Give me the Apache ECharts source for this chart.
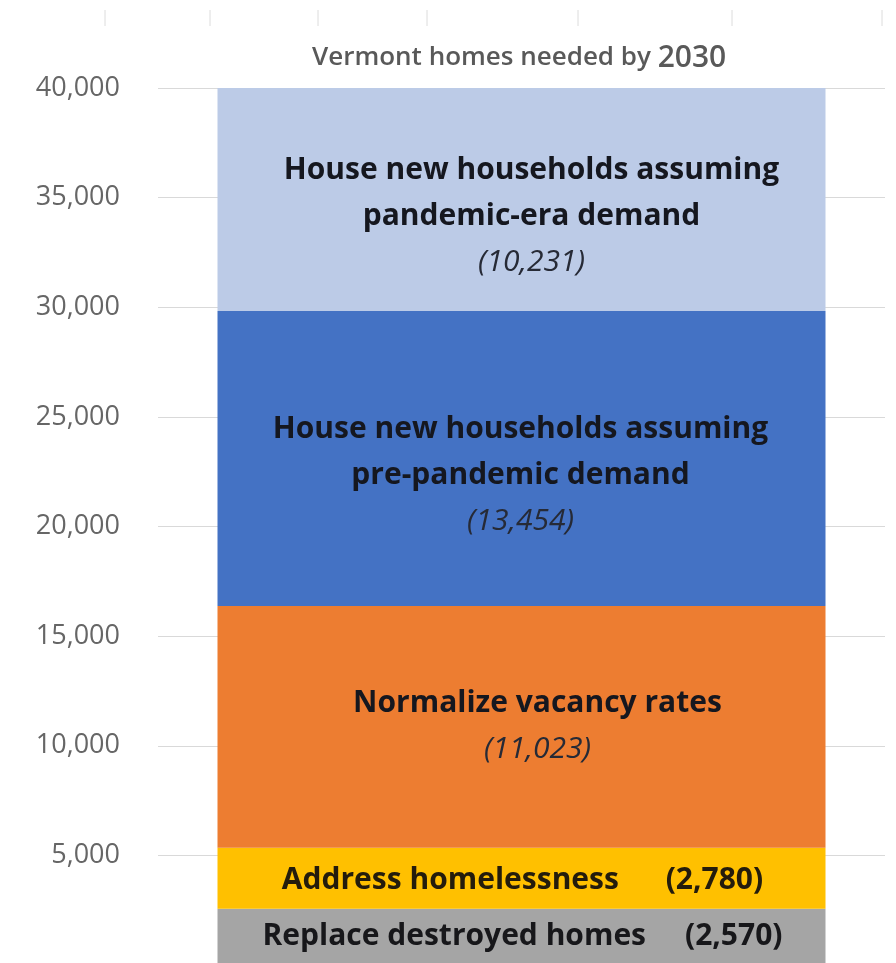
<!DOCTYPE html>
<html>
<head>
<meta charset="utf-8">
<script src="https://cdn.jsdelivr.net/npm/echarts@6/dist/echarts.min.js"></script>
<style>
html,body{margin:0;padding:0;background:#fff;}
#chart{width:896px;height:963px;}
</style>
</head>
<body>
<div id="chart"></div>
<script>
// Data
const categories = ['Vermont homes needed by 2030'];
const seriesNames = [
  'Replace destroyed homes',
  'Address homelessness',
  'Normalize vacancy rates',
  'House new households assuming pre-pandemic demand',
  'House new households assuming pandemic-era demand'
];
const replaceDestroyed = [2570];
const addressHomelessness = [2780];
const normalizeVacancy = [11023];
const prePandemic = [13454];
const pandemicEra = [10231];
const yTicks = [0, 5000, 10000, 15000, 20000, 25000, 30000, 35000, 40000];
const titleMain = 'Vermont homes needed by ';
const titleYear = '2030';

const colors = ['#A5A5A5', '#FFC000', '#ED7D31', '#4472C4', '#BCCBE7'];
const values = [replaceDestroyed, addressHomelessness, normalizeVacancy, prePandemic, pandemicEra];
const fmt = v => Number(v).toLocaleString('en-US');

const FONT = '"Open Sans"';
const rich = {
  b: {fontFamily: FONT, fontWeight: 'bold', fontSize: 30, color: '#15171f', lineHeight: 46},
  i: {fontFamily: FONT, fontStyle: 'italic', fontSize: 30, color: '#262a36', lineHeight: 46},
  s: {fontFamily: FONT, fontWeight: 'bold', fontSize: 30, color: '#17171a'},
  y: {fontFamily: FONT, fontWeight: 'bold', fontSize: 30, color: '#241c0c'}
};

const labelFormatters = [
  p => '{s|' + seriesNames[0] + '     (' + fmt(p.value) + ')}',
  p => '{y|' + seriesNames[1] + '      (' + fmt(p.value) + ')}',
  p => '{b|' + seriesNames[2] + '}\n{i|(' + fmt(p.value) + ')}',
  p => '{b|House new households assuming}\n{b|pre-pandemic demand}\n{i|(' + fmt(p.value) + ')}',
  p => '{b|House new households assuming}\n{b|pandemic-era demand}\n{i|(' + fmt(p.value) + ')}'
];
const labelOffsets = [[1, 0], [1, 2], [16, 0], [-1, 17], [10, 17]];

const series = seriesNames.map((name, k) => ({
  name: name,
  type: 'bar',
  stack: 'total',
  barWidth: 608,
  clip: true,
  data: values[k],
  itemStyle: {color: colors[k]},
  label: {
    show: true,
    position: 'inside',
    offset: labelOffsets[k],
    formatter: labelFormatters[k],
    rich: rich
  }
}));

// faint tick fragments at the top (remnants of a cropped axis)
const topTicks = [105, 210, 318, 427, 578, 732, 882].map(x => ({
  type: 'line',
  shape: {x1: x, y1: 10, x2: x, y2: 26},
  style: {stroke: '#dcdcdc', lineWidth: 1}
}));

const chart = echarts.init(document.getElementById('chart'));
chart.setOption({
  animation: false,
  backgroundColor: '#fff',
  title: {
    text: '{a|' + titleMain + '}{y|' + titleYear + '}',
    left: 307,
    top: 38,
    textStyle: {
      rich: {
        a: {fontFamily: FONT, fontWeight: 600, fontSize: 26, color: '#595959'},
        y: {fontFamily: FONT, fontWeight: 600, fontSize: 30, color: '#595959'}
      }
    }
  },
  graphic: topTicks,
  grid: {left: 158, right: 11, top: 88, height: 877, containLabel: false, outerBoundsMode: 'none'},
  xAxis: {
    type: 'category',
    data: categories,
    show: false
  },
  yAxis: {
    type: 'value',
    min: yTicks[0],
    max: yTicks[yTicks.length - 1],
    interval: yTicks[1] - yTicks[0],
    axisLine: {show: false},
    axisTick: {show: false},
    splitLine: {lineStyle: {color: '#d9d9d9', width: 1}},
    axisLabel: {
      margin: 38,
      fontFamily: FONT,
      fontSize: 27,
      color: '#666666',
      showMinLabel: false,
      formatter: v => fmt(v)
    }
  },
  series: series
});
</script>
</body>
</html>
